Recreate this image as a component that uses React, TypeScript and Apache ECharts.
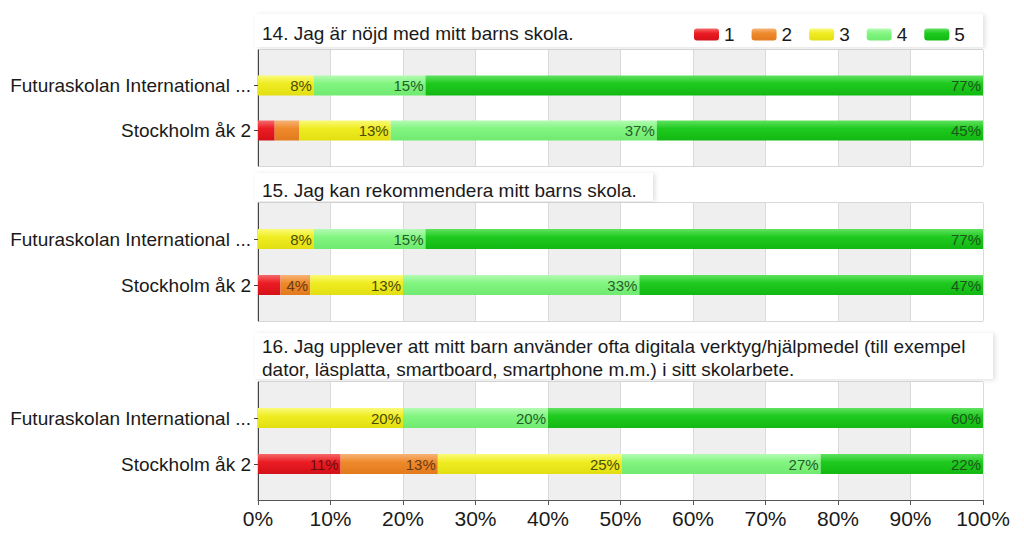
import React, { useEffect, useRef } from "react";
import * as echarts from "echarts";

const categories = ["Futuraskolan International ...", "Stockholm åk 2"];
const levels = ["1", "2", "3", "4", "5"];
const titlesQ14 = ["14. Jag är nöjd med mitt barns skola."];
const titlesQ15 = ["15. Jag kan rekommendera mitt barns skola."];
const titlesQ16 = [
  "16. Jag upplever att mitt barn använder ofta digitala verktyg/hjälpmedel (till exempel",
  "dator, läsplatta, smartboard, smartphone m.m.) i sitt skolarbete.",
];
// share (%) per answer level 1..5
const q14Futura = [0, 0, 7.7, 15.4, 76.9];
const q14Stockholm = [2.3, 3.4, 12.6, 36.7, 45.0];
const q15Futura = [0, 0, 7.7, 15.4, 76.9];
const q15Stockholm = [3.1, 4.1, 12.8, 32.6, 47.4];
const q16Futura = [0, 0, 20, 20, 60];
const q16Stockholm = [11.4, 13.4, 25.4, 27.4, 22.4];
const xTicks = [0, 10, 20, 30, 40, 50, 60, 70, 80, 90, 100];

const FONT = 'Arial, "Liberation Sans", sans-serif';

const gradStops = [
  ["#f46a6a", "#ec1c24", "#d41018"],
  ["#f6b476", "#ee8a2c", "#e27a1e"],
  ["#fafa78", "#efed22", "#e2de12"],
  ["#b4fbb4", "#82f580", "#70ea70"],
  ["#60e260", "#1fca1f", "#12b812"],
];
const labelColors = ["#6a0c0c", "#6a3a10", "#4a4a08", "#245e2a", "#1b561b"];

const panels = [
  { top: 50, bottom: 166, futura: q14Futura, stockholm: q14Stockholm },
  { top: 203, bottom: 321, futura: q15Futura, stockholm: q15Stockholm },
  { top: 382, bottom: 500, futura: q16Futura, stockholm: q16Stockholm },
];

export default function App() {
  const ref = useRef<HTMLDivElement>(null);
  useEffect(() => {
    if (!ref.current) return;
    const chart = echarts.init(ref.current, null, { renderer: "svg" });
    const grids: any[] = [];
    const xAxes: any[] = [];
    const yAxes: any[] = [];
    const series: any[] = [];
    const L = 258;
    const R = 41;
    const inset = 13;

    panels.forEach((p, pi) => {
      const isLast = pi === panels.length - 1;
      grids.push({
        left: L,
        right: R,
        top: p.top,
        height: p.bottom - p.top,
        show: true,
        borderColor: "#b0b0b0",
        borderWidth: 1,
        backgroundColor: "transparent",
      });
      const bgIdx = grids.length - 1;
      xAxes.push({
        type: "value",
        gridIndex: bgIdx,
        min: 0,
        max: 100,
        interval: 10,
        splitArea: { show: true, areaStyle: { color: ["#efefef", "#ffffff"] } },
        splitLine: { show: true, lineStyle: { color: "#dadada", width: 1 } },
        axisLine: { show: isLast, lineStyle: { color: "#555" } },
        axisTick: { show: isLast, length: 5, lineStyle: { color: "#555" } },
        axisLabel: {
          show: isLast,
          formatter: (v: number) => (xTicks.includes(v) ? v + "%" : ""),
          fontSize: 21,
          color: "#1a1a1a",
          fontFamily: FONT,
          margin: 8,
        },
      });
      yAxes.push({
        type: "value",
        gridIndex: bgIdx,
        min: 0,
        max: 1,
        splitLine: { show: false },
        axisLabel: { show: false },
        axisTick: { show: false },
        axisLine: { show: true, lineStyle: { color: "#444" } },
      });
      grids.push({
        left: L,
        right: R,
        top: p.top + inset,
        height: p.bottom - p.top - inset * 2,
      });
      const bIdx = grids.length - 1;
      xAxes.push({ type: "value", gridIndex: bIdx, min: 0, max: 100, show: false });
      yAxes.push({
        type: "category",
        gridIndex: bIdx,
        data: categories,
        inverse: true,
        axisLine: { show: false },
        axisTick: { show: true, alignWithLabel: true, length: 4, lineStyle: { color: "#444" } },
        axisLabel: { fontSize: 19, color: "#1a1a1a", fontFamily: FONT, margin: 7 },
        splitLine: { show: false },
      });
      levels.forEach((lv, k) => {
        const [c0, c1, c2] = gradStops[k];
        series.push({
          type: "bar",
          name: lv,
          xAxisIndex: bIdx,
          yAxisIndex: bIdx,
          stack: "p" + pi,
          barWidth: 20,
          data: [p.futura[k], p.stockholm[k]],
          itemStyle: {
            color: new echarts.graphic.LinearGradient(0, 0, 0, 1, [
              { offset: 0, color: c0 },
              { offset: 0.4, color: c1 },
              { offset: 1, color: c2 },
            ]),
          },
          label: {
            show: true,
            position: "insideRight",
            distance: 2,
            fontSize: 15,
            fontFamily: FONT,
            color: labelColors[k],
            formatter: (prm: any) => (prm.value >= 3.5 ? Math.round(prm.value) + "%" : ""),
          },
        });
      });
    });

    const boxStyle = {
      fill: "#ffffff",
      shadowBlur: 5,
      shadowColor: "rgba(0,0,0,0.13)",
      shadowOffsetX: 2,
      shadowOffsetY: 1,
    };
    const titleStyle = (t: string) => ({
      text: t,
      fill: "#1a1a1a",
      font: "19px " + FONT,
      textVerticalAlign: "middle",
    });

    chart.setOption({
      animation: false,
      backgroundColor: "#ffffff",
      grid: grids,
      xAxis: xAxes,
      yAxis: yAxes,
      series,
      legend: {
        data: levels,
        left: 694,
        top: 25,
        padding: 0,
        itemWidth: 25,
        itemHeight: 12,
        itemGap: 17,
        textStyle: { fontSize: 19, color: "#1a1a1a", fontFamily: FONT },
      },
      graphic: [
        { type: "rect", shape: { x: 255, y: 14, width: 728, height: 33 }, style: boxStyle, z: -10, silent: true },
        { type: "rect", shape: { x: 255, y: 173, width: 398, height: 28 }, style: boxStyle, z: -10, silent: true },
        { type: "rect", shape: { x: 255, y: 333, width: 738, height: 46 }, style: boxStyle, z: -10, silent: true },
        { type: "text", x: 262, y: 33, style: titleStyle(titlesQ14[0]) },
        { type: "text", x: 262, y: 190, style: titleStyle(titlesQ15[0]) },
        { type: "text", x: 262, y: 346, style: titleStyle(titlesQ16[0]) },
        { type: "text", x: 262, y: 369, style: titleStyle(titlesQ16[1]) },
      ],
    });
    return () => chart.dispose();
  }, []);
  return (
    <div
      ref={ref}
      style={{ position: "fixed", left: 0, top: 0, width: 1024, height: 537 }}
    />
  );
}
